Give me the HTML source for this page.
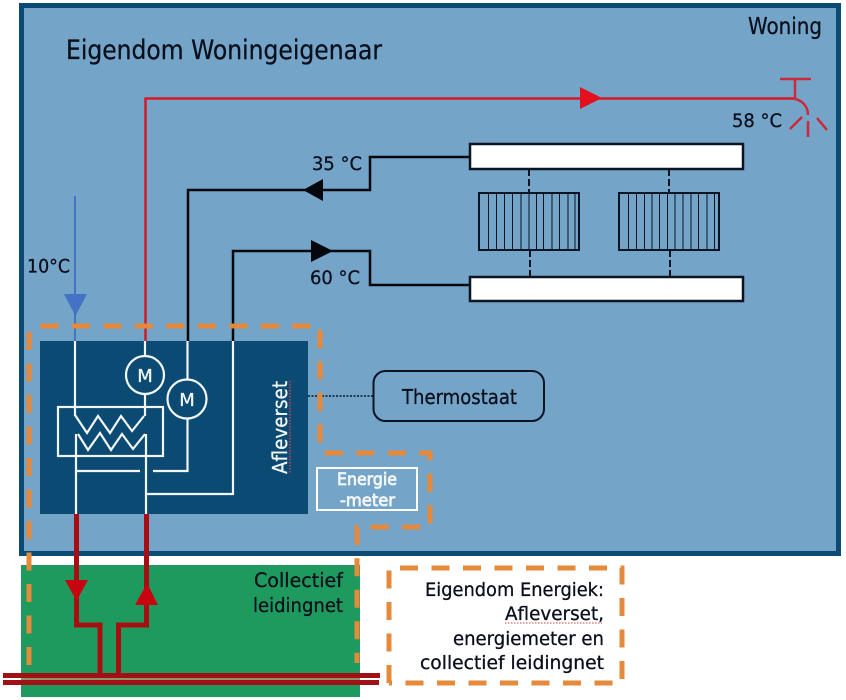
<!DOCTYPE html>
<html lang="nl">
<head>
<meta charset="utf-8">
<title>Afleverset diagram</title>
<style>
html,body{margin:0;padding:0;background:#fff;width:846px;height:700px;overflow:hidden}
svg{display:block}
text{font-family:"DejaVu Sans","Liberation Sans",sans-serif;fill:#0a0f1c;stroke:#0a0f1c;stroke-width:.3px}
text.w{fill:#f2f6f8;stroke:#f2f6f8}
text.b{stroke-width:.8px}
</style>
</head>
<body>
<svg xmlns="http://www.w3.org/2000/svg" width="846" height="700" viewBox="0 0 846 700">
  <!-- Woning -->
  <rect x="21.500" y="5.500" width="817" height="548" fill="#74a5c8" stroke="#0b4a73" stroke-width="5"/>
  <!-- Collectief leidingnet -->
  <rect x="21" y="565" width="339" height="132" fill="#1f9a5e"/>

  <!-- Afleverset -->
  <rect x="40" y="341" width="268" height="173" fill="#0b4a73"/>

  <!-- Hot tap water -->
  <path d="M145.500 341V98.500H795" fill="none" stroke="#d41a28" stroke-width="2.500"/>
  <polygon points="580,87 602,98 580,109" fill="#e3101e"/>
  <g fill="none" stroke="#c92a3e" stroke-width="2.500">
    <path d="M780 79H811M795 79V99M793 98.500C802 100 808 106 808 115"/>
    <path d="M808 121V137M790 129L802 117M827 130L817 118"/>
  </g>

  <!-- Cold water -->
  <path d="M75 196V341" fill="none" stroke="#4472c4" stroke-width="2"/>
  <polygon points="64,294 87,294 75.500,316" fill="#4472c4"/>

  <!-- Heating pipes -->
  <g fill="none" stroke="#05070d" stroke-width="2.500">
    <path d="M188 341V190H370V157H470"/>
    <path d="M233 341V251H370V285H470"/>
  </g>
  <polygon points="303,190 323,179 323,201" fill="#05070d"/>
  <polygon points="311,240 333,251 311,262" fill="#05070d"/>

  <!-- Headers -->
  <rect x="470" y="144" width="273" height="25" fill="#fff" stroke="#0a1422" stroke-width="2.500"/>
  <rect x="470" y="277" width="273" height="24" fill="#fff" stroke="#0a1422" stroke-width="2.500"/>

  <!-- Radiators -->
  <g fill="none" stroke="#0a1422">
    <rect x="479" y="193" width="100" height="57" stroke-width="2"/>
    <rect x="619" y="193" width="100" height="57" stroke-width="2"/>
    <path stroke-width="1" d="M488.500 193V250M496.500 193V250M504.500 193V250M512.500 193V250M521 193V250M529 193V250M536.500 193V250M543.500 193V250M552 193V250M559.500 193V250M568 193V250M575 193V250"/>
    <path stroke-width="1" d="M628.500 193V250M636.500 193V250M644.500 193V250M652 193V250M659.500 193V250M667.500 193V250M675 193V250M683 193V250M691 193V250M698.500 193V250M707 193V250M714.500 193V250"/>
    <path stroke-width="2" stroke-dasharray="7 3" d="M529 169V193M530 250V277M669 169V193M670 250V277"/>
  </g>

  <!-- Thermostaat -->
  <path d="M308 396H373" fill="none" stroke="#0a1422" stroke-width="1.500" stroke-dasharray="2 1.500"/>
  <rect x="373.500" y="371" width="170.500" height="50" rx="12" fill="#74a5c8" stroke="#0a1422" stroke-width="2"/>

  <!-- Afleverset internal lines -->
  <g fill="none" stroke="#f2f6f8" stroke-width="2.200">
    <path d="M75 341V416"/>
    <path d="M145 341V356M145 394V416"/>
    <circle cx="145" cy="375" r="19"/>
    <path d="M187.500 341V380M187.500 418V471H153"/>
    <circle cx="187" cy="399" r="19.500"/>
    <rect x="58" y="407" width="105" height="49"/>
    <polyline points="75,415 87,433 98,416 110,433 121,416 132,431 144,416"/>
    <polyline points="78,434 88,450 100,433 111,450 122,434 133,449 145,434"/>
    <path d="M76 434V514M146 434V514"/>
    <path d="M76 471H140"/>
    <path d="M233 341V494H146"/>
  </g>
  <text class="w" x="145" y="382" font-size="18" text-anchor="middle">M</text>
  <text class="w" x="187" y="406" font-size="18" text-anchor="middle">M</text>
  <text class="w" transform="translate(287 474) rotate(-90)" font-size="20" textLength="93" lengthAdjust="spacingAndGlyphs">Afleverset</text>
  <path d="M290 381V474" fill="none" stroke="#c8405a" stroke-width="1.500" stroke-dasharray="1.500 1.500"/>

  <!-- Energiemeter -->
  <rect x="317" y="468" width="100" height="42" fill="none" stroke="#fff" stroke-width="2"/>
  <text class="w b" x="337" y="485" font-size="17" textLength="60" lengthAdjust="spacingAndGlyphs">Energie</text>
  <text class="w b" x="340" y="506" font-size="17" textLength="55" lengthAdjust="spacingAndGlyphs">-meter</text>

  <!-- Primary pipes -->
  <g fill="none" stroke="#a80d12" stroke-width="5">
    <path d="M76.500 514V625H100V676"/>
    <path d="M146.500 514V625H118.500V681"/>
  </g>
  <polygon points="65,580 88,580 76.500,601" fill="#c70510"/>
  <polygon points="135,605 158,605 147,583" fill="#c70510"/>
  <rect x="3" y="673" width="377" height="5" fill="#a01014"/>
  <rect x="3" y="680" width="376" height="5" fill="#a01014"/>
  <rect x="21" y="678" width="339" height="2" fill="#8f9465"/>

  <!-- Orange dashed boundaries -->
  <g fill="none" stroke="#e5893d" stroke-width="5" stroke-dasharray="18 13.500">
    <path d="M29 665V336Q29 326 39 326H320V448Q320 453 325 453H430V527H357V663"/>
    <path d="M389 683V568H622V683H389"/>
  </g>

  <!-- Labels -->
  <text x="66" y="59" font-size="26.500" textLength="316" lengthAdjust="spacingAndGlyphs">Eigendom Woningeigenaar</text>
  <text x="748" y="34" font-size="23" textLength="74" lengthAdjust="spacingAndGlyphs">Woning</text>
  <text x="732" y="127" font-size="19" textLength="50" lengthAdjust="spacingAndGlyphs">58  °C</text>
  <text x="312" y="170" font-size="19" textLength="50" lengthAdjust="spacingAndGlyphs">35  °C</text>
  <text x="310" y="284" font-size="19" textLength="50" lengthAdjust="spacingAndGlyphs">60  °C</text>
  <text x="27" y="272.500" font-size="19" textLength="43" lengthAdjust="spacingAndGlyphs">10°C</text>
  <text x="402" y="404" font-size="20" textLength="115" lengthAdjust="spacingAndGlyphs">Thermostaat</text>
  <text x="254" y="587" font-size="19.500" textLength="89" lengthAdjust="spacingAndGlyphs">Collectief</text>
  <text x="253" y="612" font-size="19.500" textLength="90" lengthAdjust="spacingAndGlyphs">leidingnet</text>
  <text x="425" y="596" font-size="19" textLength="179" lengthAdjust="spacingAndGlyphs">Eigendom Energiek:</text>
  <text x="505" y="620" font-size="19" textLength="99" lengthAdjust="spacingAndGlyphs">Afleverset,</text>
  <text x="453" y="645" font-size="19" textLength="151" lengthAdjust="spacingAndGlyphs">energiemeter en</text>
  <text x="420" y="669" font-size="19" textLength="184" lengthAdjust="spacingAndGlyphs">collectief leidingnet</text>
  <path d="M505 623H602" fill="none" stroke="#d0403a" stroke-width="1" stroke-dasharray="1.500 1.500"/>
</svg>
</body>
</html>
